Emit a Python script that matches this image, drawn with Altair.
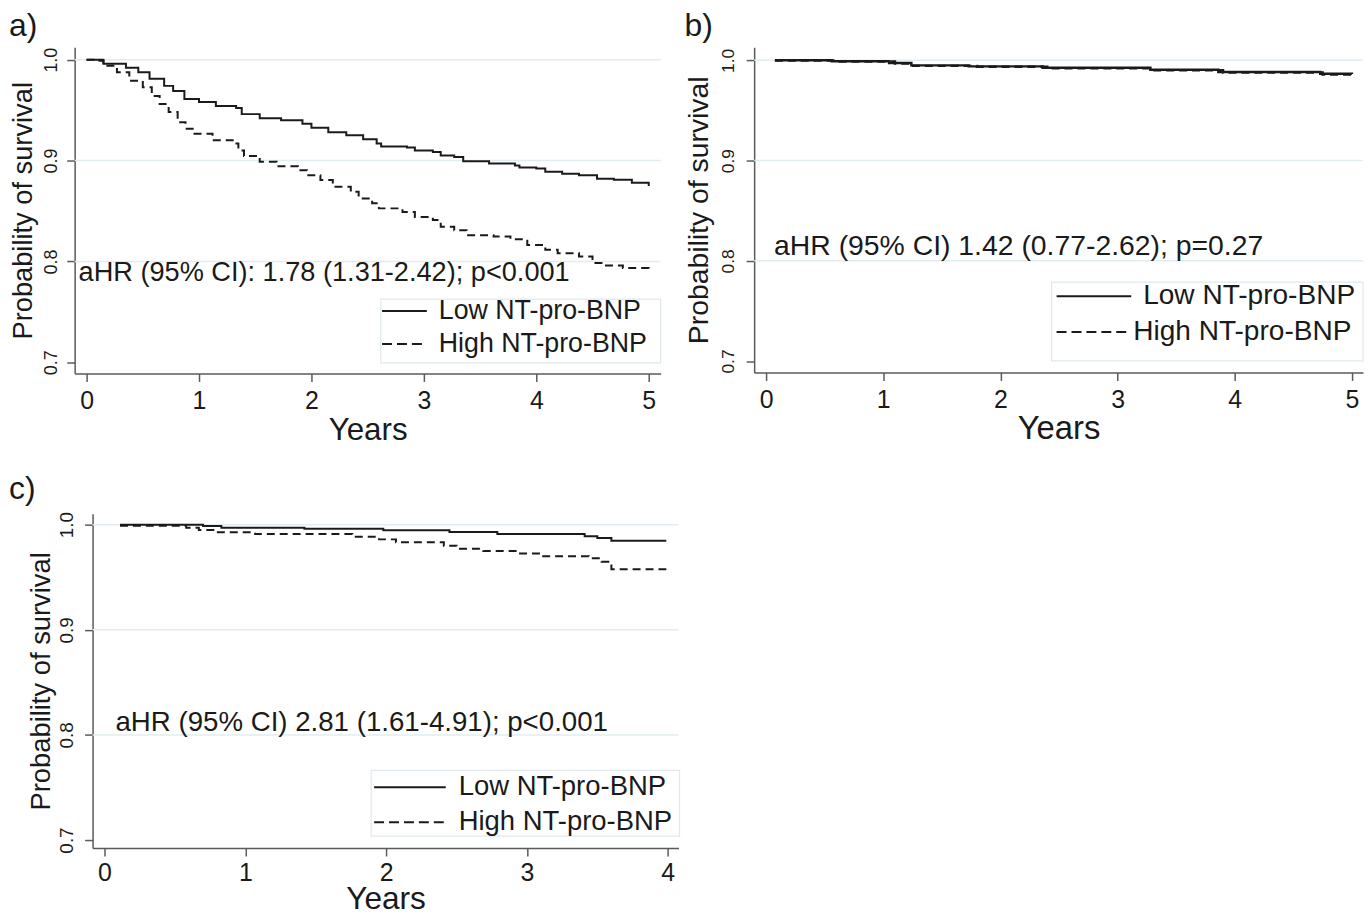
import altair as alt
import pandas as pd

FONT = "Liberation Sans"
INK = "#1a1a1a"
AXIS_C = "#5a5a5a"
GRID_C = "#e1ecf0"
BOX_C = "#e0e9ee"

GROUPS = ["Low NT-pro-BNP", "High NT-pro-BNP"]
DASHES = [[1, 0], [8, 5]]
Y_TICKS = [0.7, 0.8, 0.9, 1.0]
GRID_LEVELS = [0.8, 0.9, 1.0]

# ---------------- panel a ----------------
a_low_t = [0, 0.15, 0.35, 0.46, 0.56, 0.69, 0.77, 0.87, 1.0, 1.15, 1.33, 1.38, 1.54, 1.73, 1.92,
           2.0, 2.15, 2.31, 2.46, 2.58, 2.62, 2.85, 2.92, 3.08, 3.15, 3.27, 3.35, 3.58, 3.81, 3.85,
           4.0, 4.08, 4.23, 4.38, 4.54, 4.69, 4.85, 5.0]
a_low_s = [1.0, 0.996, 0.992, 0.9875, 0.981, 0.974, 0.969, 0.961, 0.958, 0.954, 0.952, 0.946, 0.942,
           0.940, 0.9365, 0.9326, 0.928, 0.925, 0.921, 0.917, 0.914, 0.913, 0.910, 0.9085, 0.905,
           0.9036, 0.8993, 0.897, 0.895, 0.893, 0.892, 0.889, 0.887, 0.8855, 0.882, 0.881, 0.878, 0.8747]
a_high_t = [0, 0.08, 0.15, 0.27, 0.38, 0.5, 0.58, 0.65, 0.73, 0.81, 0.88, 0.96, 1.12, 1.31, 1.35,
            1.4, 1.54, 1.69, 1.88, 1.96, 2.08, 2.19, 2.35, 2.42, 2.54, 2.6, 2.81, 2.92, 3.08, 3.15,
            3.27, 3.38, 3.62, 3.77, 3.92, 4.08, 4.19, 4.38, 4.5, 4.62, 4.77, 5.0]
a_high_s = [1.0, 0.999, 0.994, 0.9875, 0.979, 0.9727, 0.964, 0.956, 0.948, 0.938, 0.9316, 0.9266,
            0.92, 0.9168, 0.910, 0.9046, 0.8987, 0.8944, 0.8905, 0.8855, 0.8806, 0.874, 0.869,
            0.8625, 0.8576, 0.8526, 0.849, 0.844, 0.841, 0.8345, 0.831, 0.826, 0.8247, 0.822,
            0.8164, 0.8115, 0.8082, 0.805, 0.7984, 0.796, 0.7934, 0.7885]
a_note = "aHR (95% CI): 1.78 (1.31-2.42); p<0.001"
a_note_xy = [-0.071, 0.7808]

# ---------------- panel b ----------------
b_low_t = [0.075, 0.56, 1.05, 1.24, 1.73, 2.36, 3.28, 3.86, 4.73, 5.0]
b_low_s = [1.0, 0.999, 0.9973, 0.995, 0.994, 0.9927, 0.9907, 0.9884, 0.9867, 0.9864]
b_high_t = [0.075, 0.6, 1.1, 1.24, 1.8, 2.4, 3.3, 3.9, 4.75, 5.0]
b_high_s = [0.9998, 0.9988, 0.9968, 0.9945, 0.9937, 0.992, 0.9902, 0.9878, 0.986, 0.9858]
b_note = "aHR (95% CI) 1.42 (0.77-2.62); p=0.27"
b_note_xy = [0.068, 0.8053]

# ---------------- panel c ----------------
c_low_t = [0.11, 0.7, 0.83, 1.42, 1.98, 2.45, 2.79, 3.41, 3.5, 3.6, 3.99]
c_low_s = [1.0, 0.9987, 0.997, 0.9962, 0.9947, 0.993, 0.991, 0.989, 0.9874, 0.9846, 0.9846]
c_high_t = [0.11, 0.58, 0.67, 0.79, 1.07, 1.76, 1.95, 2.07, 2.41, 2.5, 2.69, 2.94, 3.1, 3.44,
            3.53, 3.6, 3.99]
c_high_s = [0.999, 0.997, 0.995, 0.9927, 0.991, 0.9886, 0.986, 0.9833, 0.980, 0.977, 0.975,
            0.9726, 0.970, 0.968, 0.9648, 0.9576, 0.9576]
c_note = "aHR (95% CI) 2.81 (1.61-4.91); p<0.001"
c_note_xy = [0.078, 0.8041]

ONE = pd.DataFrame({"k": [0]})


def panel(label, low_t, low_s, high_t, high_s, note, note_xy, xticks, xdom, ydom, w, h, st):
    curves = pd.DataFrame(
        {"t": low_t + high_t,
         "s": low_s + high_s,
         "g": [GROUPS[0]] * len(low_t) + [GROUPS[1]] * len(high_t)}
    )
    grid = pd.DataFrame({"s": GRID_LEVELS})
    notes = pd.DataFrame({"t": [note_xy[0]], "s": [note_xy[1]], "txt": [note]})

    xs = alt.Scale(domain=xdom, nice=False, zero=False)
    ys = alt.Scale(domain=ydom, nice=False, zero=False)
    x_axis = alt.Axis(values=xticks, format="d", title="Years", grid=False,
                      titleFont=FONT, titleFontSize=st["xtitle"], titleFontWeight="normal",
                      titleColor=INK, titlePadding=st["xtp"],
                      labelFont=FONT, labelFontSize=25, labelColor=INK, labelPadding=st["xlp"],
                      labelFlush=False, labelOverlap=False,
                      tickSize=8, tickColor=AXIS_C, tickWidth=1.5,
                      domainColor=AXIS_C, domainWidth=1.5)
    y_axis = alt.Axis(values=Y_TICKS, format=".1f", title="Probability of survival", grid=False,
                      titleFont=FONT, titleFontSize=st["ytitle"], titleFontWeight="normal",
                      titleColor=INK, titlePadding=st["ytp"],
                      labelFont=FONT, labelFontSize=st["ylab"], labelColor=INK,
                      labelAngle=270, labelAlign="center", labelBaseline="bottom",
                      labelPadding=st["ylp"], labelFlush=False, labelOverlap=False,
                      tickSize=8, tickColor=AXIS_C, tickWidth=1.5,
                      domainColor=AXIS_C, domainWidth=1.5)
    X = alt.X("t:Q", scale=xs, axis=x_axis)
    Y = alt.Y("s:Q", scale=ys, axis=y_axis)

    grid_l = alt.Chart(grid).mark_rule(color=GRID_C, strokeWidth=1.5).encode(y=Y)
    lines = alt.Chart(curves).mark_line(
        interpolate="step-after", color=INK, strokeWidth=st["lw"]
    ).encode(
        x=X, y=Y,
        strokeDash=alt.StrokeDash("g:N", scale=alt.Scale(domain=GROUPS, range=DASHES),
                                  legend=None),
        order="t:Q",
    )
    text_l = alt.Chart(notes).mark_text(
        align="left", baseline="alphabetic", font=FONT, fontSize=st["fs"], color=INK
    ).encode(x=X, y=Y, text="txt:N")

    # panel letter, outside the plot area (left of / above the axes)
    tag = alt.Chart(ONE).mark_text(
        text=label, align="left", baseline="alphabetic", font=FONT, fontSize=32, color=INK
    ).encode(x=alt.value(st["tag"][0]), y=alt.value(st["tag"][1]))

    # legend box with its two keys
    bx0, by0, bx1, by1 = st["box"]
    box = alt.Chart(ONE).mark_rect(fill="white", stroke=BOX_C, strokeWidth=1.2).encode(
        x=alt.value(bx0), x2=alt.value(bx1), y=alt.value(by0), y2=alt.value(by1))
    keys = []
    for i, (name, dash) in enumerate(zip(GROUPS, [[1, 0], [10, 5]])):
        ry = st["rows"][i]
        keys.append(alt.Chart(ONE).mark_rule(color=INK, strokeWidth=2, strokeDash=dash).encode(
            x=alt.value(st["key"][0]), x2=alt.value(st["key"][1]), y=alt.value(ry)))
        keys.append(alt.Chart(ONE).mark_text(
            text=name, align="left", baseline="middle", font=FONT, fontSize=st["lfs"], color=INK
        ).encode(x=alt.value(st["tx"][i]), y=alt.value(ry)))

    return alt.layer(grid_l, lines, text_l, box, *keys, tag).properties(width=w, height=h)


def spacer():
    # (almost) zero-size invisible cell: makes a row's left bound start at its own origin
    return alt.Chart(ONE).mark_rect(opacity=0).encode(
        x=alt.value(0), x2=alt.value(0), y=alt.value(0), y2=alt.value(0)
    ).properties(width=0.001, height=0.001)


pa = panel("a)", a_low_t, a_low_s, a_high_t, a_high_s, a_note, a_note_xy,
           [0, 1, 2, 3, 4, 5], [-0.106, 5.106], [0.689, 1.0124], 589, 328,
           dict(xtitle=31.5, xtp=1, xlp=7, ytitle=27.4, ytp=5, ylab=18, ylp=6.5, lw=2,
                fs=27.3, lfs=26.9, box=[307.7, 253.3, 589, 317.3], key=[309, 354],
                rows=[265.3, 298.3], tx=[366, 366], tag=[-66, -11]))
pb = panel("b)", b_low_t, b_low_s, b_high_t, b_high_s, b_note, b_note_xy,
           [0, 1, 2, 3, 4, 5], [-0.102, 5.095], [0.6886, 1.0132], 612, 327,
           dict(xtitle=33, xtp=0, xlp=7, ytitle=28.5, ytp=5.5, ylab=17.5, ylp=9, lw=2.5,
                fs=28.5, lfs=28.2, box=[299, 236.3, 612, 315.3], key=[304, 379],
                rows=[250.3, 286.3], tx=[391, 381], tag=[-70, -11]))
pc = panel("c)", c_low_t, c_low_s, c_high_t, c_high_s, c_note, c_note_xy,
           [0, 1, 2, 3, 4], [-0.0848, 4.077], [0.6924, 1.0104], 589, 336,
           dict(xtitle=31.8, xtp=-2.5, xlp=5, ytitle=27.5, ytp=1.5, ylab=19, ylp=8.4, lw=2,
                fs=27.8, lfs=27.6, box=[280, 258, 590, 324], key=[283, 355],
                rows=[275, 310], tx=[368, 368], tag=[-84, -15]))

pair = alt.hconcat(pa, pb, spacing=23).resolve_scale(
    strokeDash="independent", x="independent", y="independent")
top = alt.hconcat(spacer(), pair, spacing=0.01)
bottom = alt.hconcat(spacer(), pc, spacing=0.01)

chart = alt.vconcat(top, bottom, spacing=27).resolve_scale(
    strokeDash="independent", x="independent", y="independent"
).properties(
    padding={"left": 0, "top": 0, "right": 0, "bottom": -6}, background="white"
).configure_view(stroke=None)

chart.save("out.html", embed_options={"renderer": "svg", "actions": False})
